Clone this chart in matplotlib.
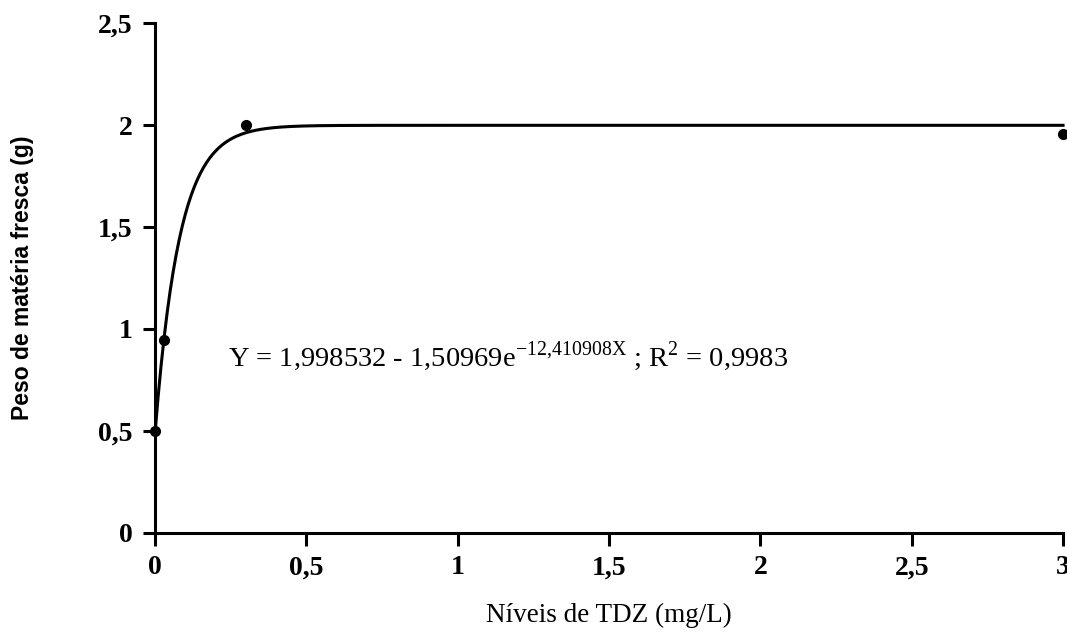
import matplotlib.pyplot as plt
import numpy as np

# observed points
tdz = [0, 0.03, 0.3, 3]
peso = [0.5, 0.945, 2.0, 1.955]

# fitted model coefficients (from the equation printed on the chart)
a, b, k = 1.998532, 1.50969, 12.410908

x_ticks = [0, 0.5, 1, 1.5, 2, 2.5, 3]
x_tick_labels = ['0', '0,5', '1', '1,5', '2', '2,5', '3']
y_ticks = [0, 0.5, 1, 1.5, 2, 2.5]
y_tick_labels = ['0', '0,5', '1', '1,5', '2', '2,5']

plt.rcParams['font.family'] = ['Liberation Serif', 'DejaVu Serif']
plt.rcParams['mathtext.fontset'] = 'custom'
plt.rcParams['mathtext.rm'] = 'Liberation Serif'

fig = plt.figure(figsize=(10.67, 6.36), dpi=100)
ax = fig.add_axes([0.1453, 0.162, 0.851, 0.8018])

xf = np.linspace(0, 3, 600)
ax.plot(xf, a - b * np.exp(-k * xf), color='black', lw=2.2, clip_on=False)
ax.plot(tdz, peso, 'o', color='black', ms=7, clip_on=False)

ax.set_xlim(0, 3)
ax.set_ylim(0, 2.5)
ax.set_xticks(x_ticks)
ax.set_xticklabels(x_tick_labels, fontsize=20, fontweight='bold')
ax.set_yticks(y_ticks)
ax.set_yticklabels(y_tick_labels, fontsize=20, fontweight='bold')
ax.tick_params(direction='out', length=9, width=2.2, pad=7)

for s in ['top', 'right']:
    ax.spines[s].set_visible(False)
for s in ['left', 'bottom']:
    ax.spines[s].set_linewidth(2.2)

ax.set_xlabel('Níveis de TDZ (mg/L)', fontsize=19.5, labelpad=16)
ax.set_ylabel('Peso de matéria fresca (g)', fontsize=16.5, fontweight='bold',
              family='Liberation Sans', labelpad=46)

ax.text(0.242, 0.865,
        r'Y = 1,998532 - 1,50969e$^{\mathrm{-12{,}410908X}}$ ; R$^{\mathrm{2}}$ = 0,9983',
        fontsize=20.5, va='center', ha='left')

fig.savefig('out.png', dpi=100)
